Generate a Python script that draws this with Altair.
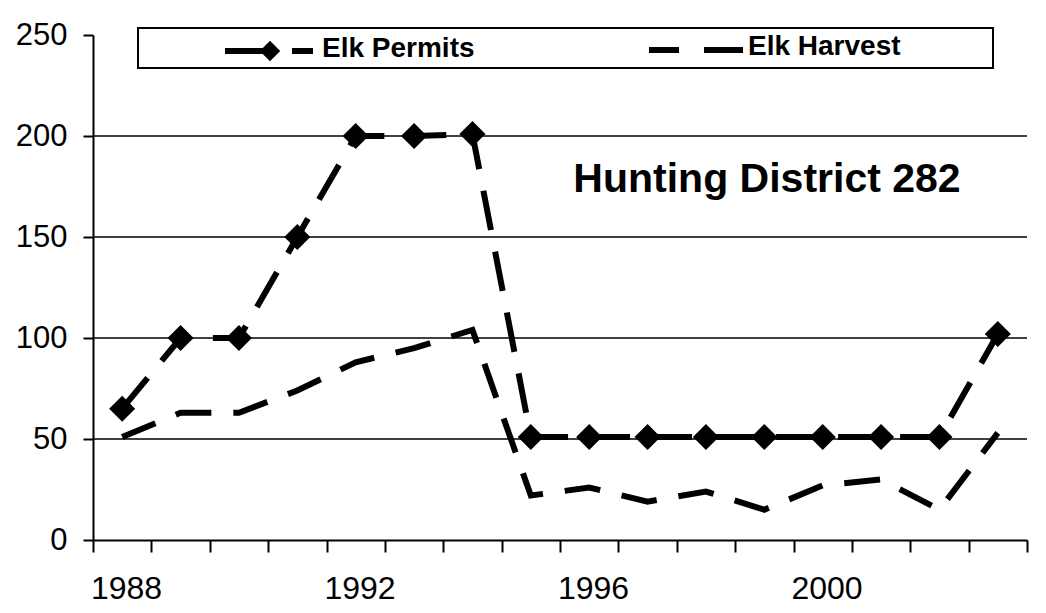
import altair as alt
import pandas as pd

# ---- data ----
years = list(range(1988, 2004))
elk_permits = [65, 100, 100, 150, 200, 200, 201, 51, 51, 51, 51, 51, 51, 51, 51, 102]
elk_harvest = [51, 63, 63, 74, 88, 95, 104, 22, 26, 19, 24, 15, 27, 30, 15, 53]
y_ticks = [0, 50, 100, 150, 200, 250]
grid_values = [50, 100, 150, 200]
x_label_years = [1988, 1992, 1996, 2000]
series_names = ["Elk Permits", "Elk Harvest"]
chart_title = "Hunting District 282"

W, H = 934, 505
FONT = "Liberation Sans"

df = pd.DataFrame({"year": years, "permits": elk_permits, "harvest": elk_harvest})
x_edges = [y - 0.5 for y in years] + [years[-1] + 0.5]

x_scale = alt.Scale(domain=[years[0] - 0.5, years[-1] + 0.5], nice=False, zero=False)
y_scale = alt.Scale(domain=[0, 250], nice=False)

label_test = " || ".join(f"datum.value == {y - 0.5}" for y in x_label_years)
x_axis = alt.Axis(
    values=x_edges,
    labelExpr=f"({label_test}) ? format(datum.value + 0.5, 'd') : ''",
    title=None, grid=False, domainColor="black", domainWidth=2,
    tickColor="black", tickWidth=2, tickSize=12,
    labelFont=FONT, labelFontSize=32, labelColor="black",
    labelOffset=33, labelPadding=21, labelFlush=False, labelOverlap=False,
)
y_axis = alt.Axis(
    values=y_ticks, title=None, grid=False, domainColor="black", domainWidth=2,
    tickColor="black", tickWidth=2, tickSize=10,
    labelFont=FONT, labelFontSize=31, labelColor="black", labelPadding=16,
)

X = alt.X("year:Q", scale=x_scale, axis=x_axis)

grid = alt.Chart(pd.DataFrame({"v": grid_values})).mark_rule(
    color="black", strokeWidth=1.6
).encode(y=alt.Y("v:Q", scale=y_scale, axis=y_axis))

harvest = alt.Chart(df).mark_line(
    color="black", strokeWidth=6, strokeDash=[36, 22], strokeCap="butt"
).encode(x=X, y=alt.Y("harvest:Q", scale=y_scale, axis=y_axis))

permits = alt.Chart(df).mark_line(
    color="black", strokeWidth=6, strokeDash=[40, 22], strokeCap="butt"
).encode(x=X, y=alt.Y("permits:Q", scale=y_scale, axis=y_axis))

permit_pts = alt.Chart(df).mark_point(
    shape="diamond", filled=True, size=680, color="black", opacity=1
).encode(x=X, y=alt.Y("permits:Q", scale=y_scale, axis=y_axis))

one = pd.DataFrame({"a": [0]})

legend_box = alt.Chart(one).mark_rect(
    fill="white", stroke="black", strokeWidth=2
).encode(x=alt.value(45), x2=alt.value(900), y=alt.value(-7), y2=alt.value(33))

leg_perm_line = alt.Chart(one).mark_rule(
    color="black", strokeWidth=6, strokeDash=[45, 22]
).encode(x=alt.value(132), x2=alt.value(220), y=alt.value(16))

leg_perm_pt = alt.Chart(one).mark_point(
    shape="diamond", filled=True, size=420, color="black", opacity=1
).encode(x=alt.value(177), y=alt.value(16))

leg_harv_line = alt.Chart(one).mark_rule(
    color="black", strokeWidth=6, strokeDash=[30, 25, 40, 25]
).encode(x=alt.value(556), x2=alt.value(650), y=alt.value(15))

leg_text1 = alt.Chart(one).mark_text(
    text=series_names[0], font=FONT, fontSize=28, fontWeight="bold",
    align="left", baseline="middle", color="black"
).encode(x=alt.value(229), y=alt.value(14))

leg_text2 = alt.Chart(one).mark_text(
    text=series_names[1], font=FONT, fontSize=28, fontWeight="bold",
    align="left", baseline="middle", color="black"
).encode(x=alt.value(655), y=alt.value(12))

title_text = alt.Chart(one).mark_text(
    text=chart_title, font=FONT, fontSize=41, fontWeight="bold",
    align="center", baseline="alphabetic", color="black"
).encode(x=alt.value(674), y=alt.value(157))

chart = alt.layer(
    grid, harvest, permits, permit_pts,
    legend_box, leg_perm_line, leg_perm_pt, leg_harv_line, leg_text1, leg_text2,
    title_text,
).properties(
    width=W, height=H,
    autosize=alt.AutoSizeParams(type="none"),
    padding={"left": 85, "top": 27, "right": 10, "bottom": 64},
    background="white",
).configure_view(stroke=None)

chart.save("out.html", embed_options={"renderer": "svg", "actions": False})
